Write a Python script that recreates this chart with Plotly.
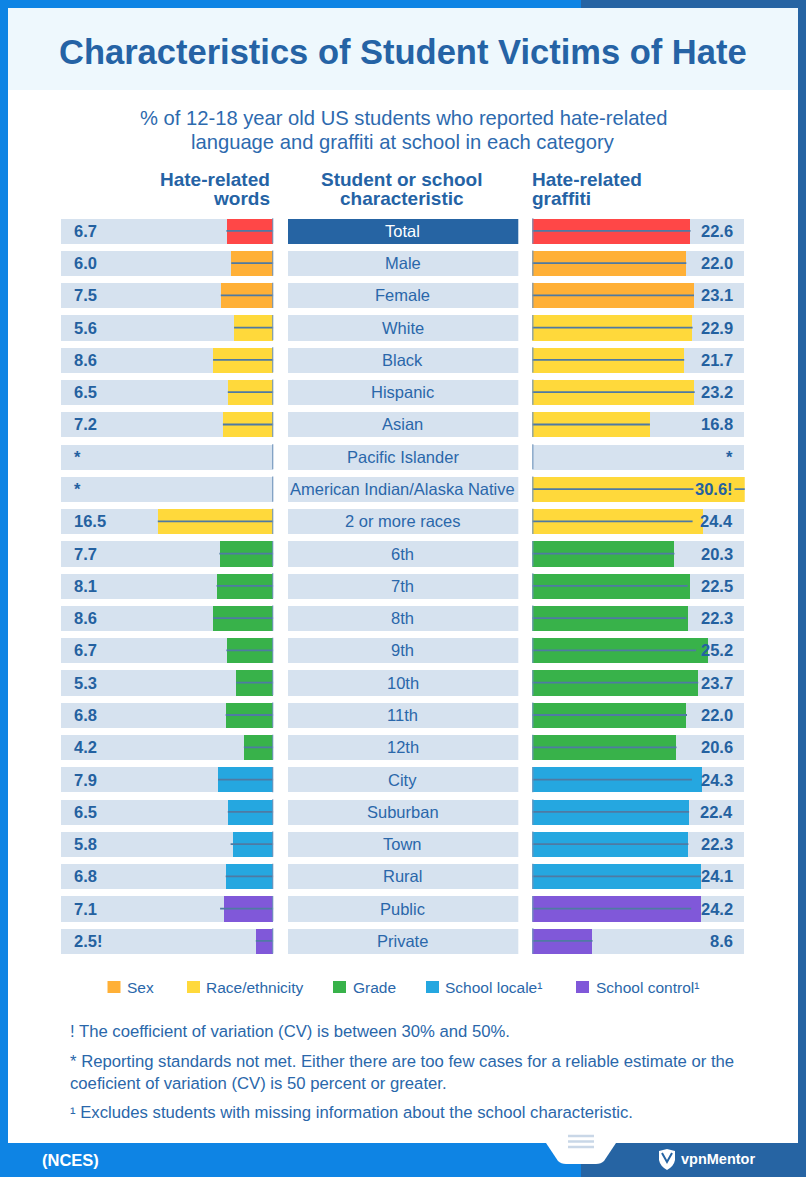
import plotly.graph_objects as go

# ---------------- data ----------------
categories = ["Total", "Male", "Female", "White", "Black", "Hispanic", "Asian",
              "Pacific Islander", "American Indian/Alaska Native", "2 or more races",
              "6th", "7th", "8th", "9th", "10th", "11th", "12th",
              "City", "Suburban", "Town", "Rural", "Public", "Private"]
groups = ["Total", "Sex", "Sex",
          "Race/ethnicity", "Race/ethnicity", "Race/ethnicity", "Race/ethnicity",
          "Race/ethnicity", "Race/ethnicity", "Race/ethnicity",
          "Grade", "Grade", "Grade", "Grade", "Grade", "Grade", "Grade",
          "School locale", "School locale", "School locale", "School locale",
          "School control", "School control"]
words = [6.7, 6.0, 7.5, 5.6, 8.6, 6.5, 7.2, None, None, 16.5,
         7.7, 8.1, 8.6, 6.7, 5.3, 6.8, 4.2, 7.9, 6.5, 5.8, 6.8, 7.1, 2.5]
words_labels = ["6.7", "6.0", "7.5", "5.6", "8.6", "6.5", "7.2", "*", "*", "16.5",
                "7.7", "8.1", "8.6", "6.7", "5.3", "6.8", "4.2", "7.9", "6.5", "5.8",
                "6.8", "7.1", "2.5!"]
words_line = [6.7, 6.0, 7.5, 5.6, 8.6, 6.5, 7.2, None, None, 16.5,
              7.7, 8.1, 8.6, 6.7, 5.3, 6.8, 4.2, 7.9, 6.5, 6.1, 6.8, 7.6, 2.5]
graffiti = [22.6, 22.0, 23.1, 22.9, 21.7, 23.2, 16.8, None, 30.6, 24.4,
            20.3, 22.5, 22.3, 25.2, 23.7, 22.0, 20.6, 24.3, 22.4, 22.3, 24.1, 24.2, 8.6]
graffiti_labels = ["22.6", "22.0", "23.1", "22.9", "21.7", "23.2", "16.8", "*", "30.6!", "24.4",
                   "20.3", "22.5", "22.3", "25.2", "23.7", "22.0", "20.6", "24.3", "22.4",
                   "22.3", "24.1", "24.2", "8.6"]
graffiti_line = [22.6, 22.0, 23.1, 22.9, 21.7, 23.2, 16.8, None, 30.6, 22.9,
                 20.3, 22.2, 22.0, 23.4, 23.7, 22.1, 20.6, 22.8, 22.4, 22.3, 24.1, 22.7, 8.6]
legend_groups = ["Sex", "Race/ethnicity", "Grade", "School locale¹", "School control¹"]
footnotes = ["! The coefficient of variation (CV) is between 30% and 50%.",
             "* Reporting standards not met. Either there are too few cases for a reliable estimate or the",
             "coeficient of variation (CV) is 50 percent or greater.",
             "¹ Excludes students with missing information about the school characteristic."]

# ---------------- style ----------------
W, H = 806, 1177
FONT = "Liberation Sans, Arial, sans-serif"
group_colors = {"Total": "#ff4747", "Sex": "#ffb037", "Race/ethnicity": "#ffd93b",
                "Grade": "#38b24a", "School locale": "#25a7e0", "School control": "#8058d9"}
legend_colors = ["#ffb037", "#ffd93b", "#38b24a", "#25a7e0", "#8058d9"]
ROW_BG = "#d6e2ef"
TEXT = "#2563a5"
BRIGHT = "#0e84e4"
DARK = "#2664a3"
LINE_C = "#4f7aa3"
ZERO_C = "#6f94bb"


def px(x):
    return x / W


def py(y):
    return 1 - y / H


n = len(categories)
idx = list(range(n))
colors = [group_colors[g] for g in groups]
RMAX = 30.35
SCALE = 7.0  # px per unit
BARW = 0.78

fig = go.Figure()

# left panel (words) - reversed axis
fig.add_trace(go.Bar(x=[RMAX] * n, y=idx, orientation="h", width=BARW,
                     marker=dict(color=ROW_BG, line=dict(width=0)),
                     xaxis="x", yaxis="y", hoverinfo="skip"))
fig.add_trace(go.Bar(x=words, y=idx, orientation="h", width=BARW,
                     marker=dict(color=colors, line=dict(width=0)),
                     xaxis="x", yaxis="y", hoverinfo="skip"))
# center column
fig.add_trace(go.Bar(x=[1] * n, y=idx, orientation="h", width=BARW,
                     marker=dict(color=[DARK if c == "Total" else ROW_BG for c in groups],
                                 line=dict(width=0)),
                     xaxis="x3", yaxis="y", hoverinfo="skip"))
# right panel (graffiti)
fig.add_trace(go.Bar(x=[RMAX] * n, y=idx, orientation="h", width=BARW,
                     marker=dict(color=ROW_BG, line=dict(width=0)),
                     xaxis="x2", yaxis="y", hoverinfo="skip"))
fig.add_trace(go.Bar(x=graffiti, y=idx, orientation="h", width=BARW,
                     marker=dict(color=colors, line=dict(width=0)),
                     xaxis="x2", yaxis="y", hoverinfo="skip"))


def seg_lines(vals):
    xs, ys = [], []
    for i, v in enumerate(vals):
        if v is None:
            continue
        xs += [0, v, None]
        ys += [i, i, None]
    return xs, ys


def zero_marks():
    xs, ys = [], []
    for i in idx:
        xs += [0, 0, None]
        ys += [i - BARW / 2, i + BARW / 2, None]
    return xs, ys


for ax, vals in (("x", words_line), ("x2", graffiti_line)):
    lx, ly = seg_lines(vals)
    fig.add_trace(go.Scatter(x=lx, y=ly, mode="lines", line=dict(color=LINE_C, width=1.8),
                             xaxis=ax, yaxis="y", hoverinfo="skip"))
    zx, zy = zero_marks()
    fig.add_trace(go.Scatter(x=zx, y=zy, mode="lines", line=dict(color=ZERO_C, width=2.2),
                             xaxis=ax, yaxis="y", hoverinfo="skip"))

annotations = []
# title & subtitle
annotations.append(dict(x=px(403), y=py(52), xref="paper", yref="paper",
                        text="<b>Characteristics of Student Victims of Hate</b>", showarrow=False,
                        font=dict(family=FONT, size=34.5, color=TEXT), xanchor="center", yanchor="middle"))
annotations.append(dict(x=px(403), y=py(118), xref="paper", yref="paper",
                        text="% of 12-18 year old US students who reported hate-related", showarrow=False,
                        font=dict(family=FONT, size=20.2, color="#2d6aae"), xanchor="center", yanchor="middle"))
annotations.append(dict(x=px(403), y=py(142), xref="paper", yref="paper",
                        text="language and graffiti at school in each category", showarrow=False,
                        font=dict(family=FONT, size=20.2, color="#2d6aae"), xanchor="center", yanchor="middle"))
# column headers
hdr = dict(family=FONT, size=19, color=TEXT)
for (x, anchor, t1, t2) in ((272, "right", "Hate-related", "words"),
                            (402, "center", "Student or school", "characteristic"),
                            (530, "left", "Hate-related", "graffiti")):
    annotations.append(dict(x=px(x), y=py(179.5), xref="paper", yref="paper", text=f"<b>{t1}</b>",
                            showarrow=False, font=hdr, xanchor=anchor, yanchor="middle"))
    annotations.append(dict(x=px(x), y=py(198.5), xref="paper", yref="paper", text=f"<b>{t2}</b>",
                            showarrow=False, font=hdr, xanchor=anchor, yanchor="middle"))

valfont = dict(family=FONT, size=16.5, color="#2461a0")
for i in idx:
    annotations.append(dict(x=px(71.5), y=i, xref="paper", yref="y", text=f"<b>{words_labels[i]}</b>",
                            showarrow=False, font=valfont, xanchor="left", yanchor="middle"))
    gl = graffiti_line[i]
    annotations.append(dict(x=px(735), y=i, xref="paper", yref="y", text=f"<b>{graffiti_labels[i]}</b>",
                            showarrow=False, font=valfont, xanchor="right", yanchor="middle",
                            bgcolor=colors[i] if (gl is not None and gl > 27) else "rgba(0,0,0,0)",
                            borderpad=1))
    annotations.append(dict(x=0.5, y=i, xref="x3", yref="y", text=categories[i], showarrow=False,
                            font=dict(family=FONT, size=16.5,
                                      color="white" if groups[i] == "Total" else "#2a67aa"),
                            xanchor="center", yanchor="middle"))

shapes = []
# legend
leg_sq_x = [107.5, 187, 333, 426, 576]
for k, lab in enumerate(legend_groups):
    x0 = leg_sq_x[k]
    shapes.append(dict(type="rect", xref="paper", yref="paper", x0=px(x0), x1=px(x0 + 13),
                       y0=py(993), y1=py(981), fillcolor=legend_colors[k], line=dict(width=0)))
    annotations.append(dict(x=px(x0 + 17.5), y=py(987), xref="paper", yref="paper", text=lab,
                            showarrow=False, font=dict(family=FONT, size=15.5, color="#2a67aa"),
                            xanchor="left", yanchor="middle"))
# footnotes
for t, yy in zip(footnotes, (1031, 1061.5, 1083, 1112.5)):
    annotations.append(dict(x=px(68), y=py(yy), xref="paper", yref="paper", text=t, showarrow=False,
                            font=dict(family=FONT, size=16.7, color="#2a67aa"),
                            xanchor="left", yanchor="middle"))
# footer text
annotations.append(dict(x=px(40), y=py(1160), xref="paper", yref="paper", text="<b>(NCES)</b>",
                        showarrow=False, font=dict(family=FONT, size=16.5, color="white"),
                        xanchor="left", yanchor="middle"))
annotations.append(dict(x=px(679), y=py(1159), xref="paper", yref="paper", text="<b>vpnMentor</b>",
                        showarrow=False, font=dict(family=FONT, size=14.5, color="white"),
                        xanchor="left", yanchor="middle"))

# frame
def rect(x0, y0, x1, y1, color, layer="below"):
    return dict(type="rect", xref="paper", yref="paper", x0=px(x0), x1=px(x1), y0=py(y1), y1=py(y0),
                fillcolor=color, line=dict(width=0), layer=layer)


shapes += [
    rect(8, 8, 798, 90, "#eef8fd"),
    rect(0, 0, 8, H, BRIGHT),
    rect(798, 0, W, H, DARK),
    rect(0, 0, 581, 8, BRIGHT),
    rect(581, 0, W, 8, DARK),
    rect(0, 1143, 581, H, BRIGHT),
    rect(581, 1143, W, H, DARK),
]
# tab under the card
tab = (f"M {px(546)} {py(1143)} L {px(616)} {py(1143)} L {px(604)} {py(1161)} "
       f"Q {px(601)} {py(1164)} {px(596)} {py(1164)} L {px(566)} {py(1164)} "
       f"Q {px(561)} {py(1164)} {px(558)} {py(1161)} Z")
shapes.append(dict(type="path", xref="paper", yref="paper", path=tab, fillcolor="white",
                   line=dict(width=0), layer="above"))
for yy in (1136, 1141.5, 1147):
    shapes.append(dict(type="line", xref="paper", yref="paper", x0=px(568), x1=px(594), y0=py(yy),
                       y1=py(yy), line=dict(color="#c9d7e7", width=2.5), layer="above"))
# shield logo
shield = (f"M {px(659)} {py(1151)} L {px(667)} {py(1149)} L {px(675)} {py(1151)} "
          f"L {px(675)} {py(1160)} Q {px(674)} {py(1166)} {px(667)} {py(1170)} "
          f"Q {px(660)} {py(1166)} {px(659)} {py(1160)} Z")
shapes.append(dict(type="path", xref="paper", yref="paper", path=shield, fillcolor="white",
                   line=dict(width=0), layer="above"))
shapes.append(dict(type="path", xref="paper", yref="paper",
                   path=f"M {px(662)} {py(1153)} L {px(667)} {py(1162)} L {px(672)} {py(1153)}",
                   line=dict(color=DARK, width=2), layer="above"))

# axes geometry
Y_TOP, ROW_SP = 230.8, 32.28
y_top_px = Y_TOP - ROW_SP / 2
y_bot_px = Y_TOP + ROW_SP * (n - 1) + ROW_SP / 2
L0 = 273.3
R0 = 532.3
hidden = dict(showgrid=False, zeroline=False, showticklabels=False, showline=False, ticks="", fixedrange=True)

fig.update_layout(
    width=W, height=H, autosize=False,
    margin=dict(l=0, r=0, t=0, b=0, pad=0),
    paper_bgcolor="white", plot_bgcolor="rgba(0,0,0,0)",
    barmode="overlay", bargap=0, showlegend=False,
    xaxis=dict(domain=[px(L0 - RMAX * SCALE), px(L0)], range=[RMAX, 0], anchor="y", **hidden),
    xaxis2=dict(domain=[px(R0), px(R0 + RMAX * SCALE)], range=[0, RMAX], anchor="y", **hidden),
    xaxis3=dict(domain=[px(287.5), px(518.3)], range=[0, 1], anchor="y", **hidden),
    yaxis=dict(domain=[py(y_bot_px), py(y_top_px)], range=[n - 0.5, -0.5], anchor="x", **hidden),
    annotations=annotations, shapes=shapes,
)

fig.write_html("out.html", config={"displayModeBar": False},
               post_script="document.body.style.margin='0';document.body.style.overflow='hidden';")
